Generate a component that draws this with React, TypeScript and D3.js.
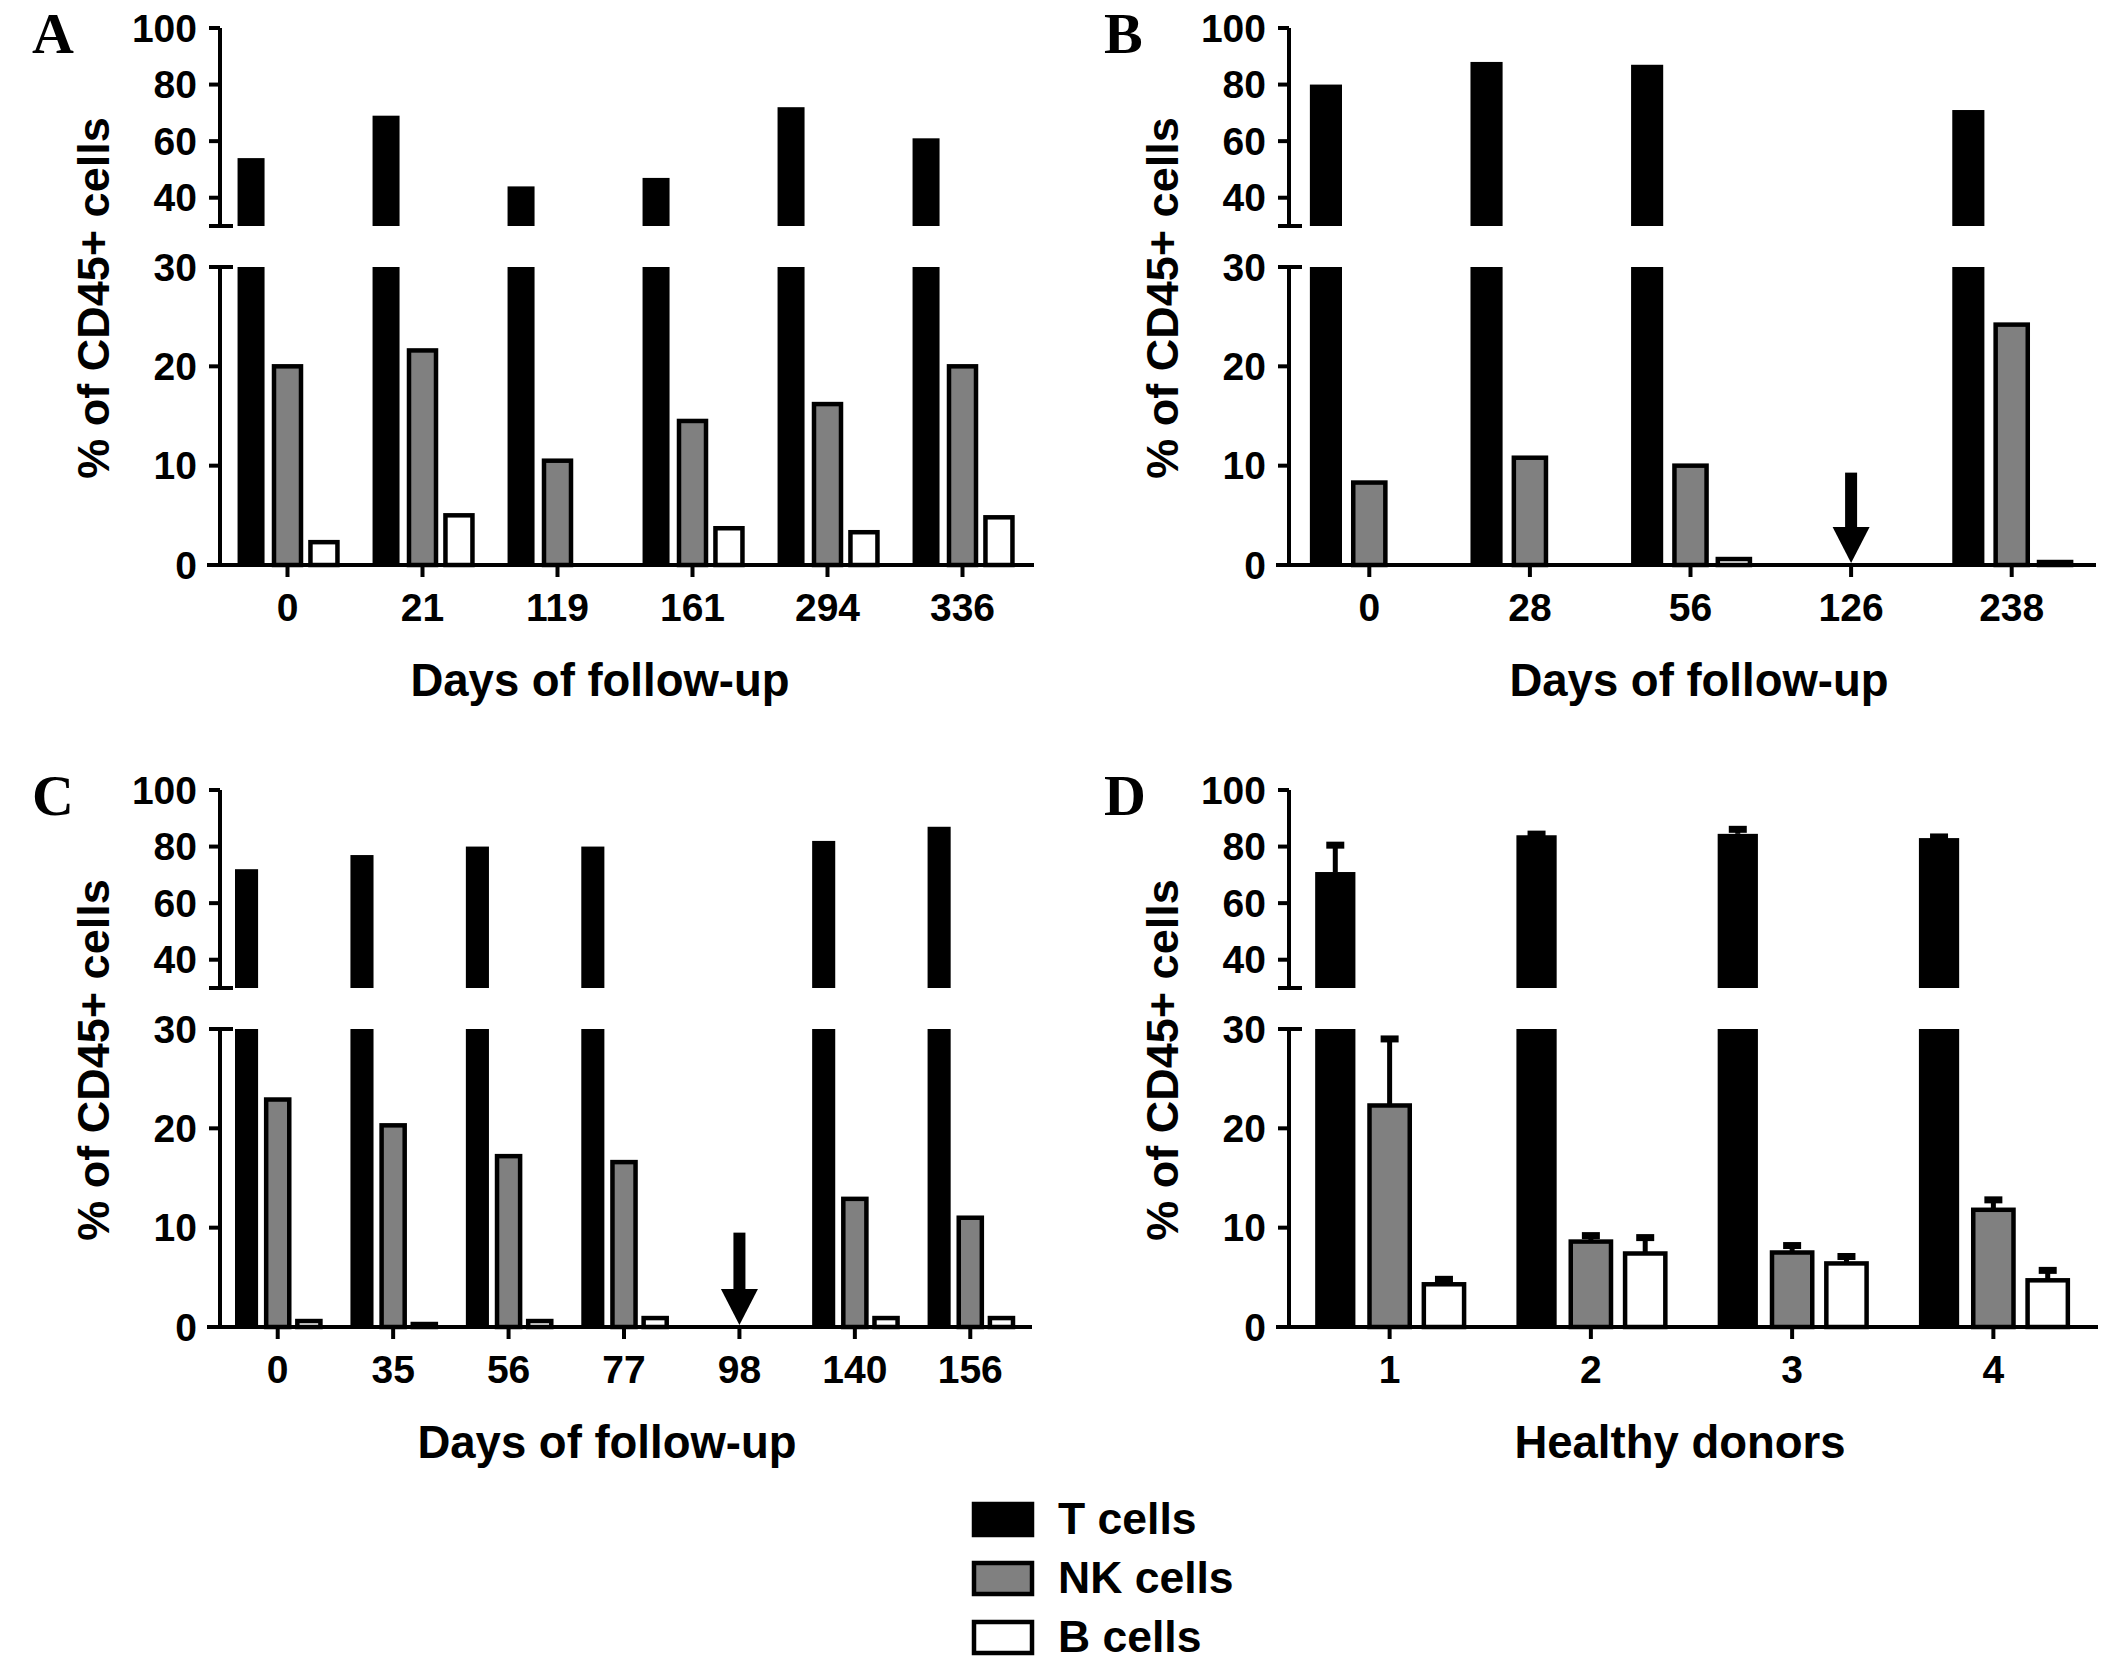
import * as d3 from 'd3';

// Panel A: patient 1
const catsA = ['0', '21', '119', '161', '294', '336'];
const tA = [54, 69, 44, 47, 72, 61];
const nkA = [20, 21.6, 10.5, 14.5, 16.2, 20];
const bA = [2.3, 5.0, 0, 3.7, 3.3, 4.8];

// Panel B: patient 2 (arrow at day 126)
const catsB = ['0', '28', '56', '126', '238'];
const tB = [80, 88, 87, 0, 71];
const nkB = [8.3, 10.8, 10, 0, 24.2];
const bB = [0, 0, 0.6, 0, 0.3];

// Panel C: patient 3 (arrow at day 98)
const catsC = ['0', '35', '56', '77', '98', '140', '156'];
const tC = [72, 77, 80, 80, 0, 82, 87];
const nkC = [22.9, 20.3, 17.2, 16.6, 0, 12.9, 11];
const bC = [0.6, 0.3, 0.6, 0.9, 0, 0.9, 0.9];

// Panel D: healthy donors, mean + SD
const catsD = ['1', '2', '3', '4'];
const tD = [71, 84, 84.5, 83];
const tErrD = [9.5, 0.4, 1.6, 0.4];
const nkD = [22.3, 8.6, 7.5, 11.8];
const nkErrD = [6.7, 0.6, 0.7, 1.0];
const bD = [4.3, 7.4, 6.4, 4.7];
const bErrD = [0.5, 1.6, 0.7, 1.0];

const upperTicks = [40, 60, 80, 100];
const lowerTicks = [0, 10, 20, 30];

const legendItems = ['T cells', 'NK cells', 'B cells'];
const GREY = '#808080';
const SANS = '"Liberation Sans", Arial, sans-serif';

interface PanelProps {
  letter: string;
  letterX: number;
  axisX: number;
  bandEnd: number;
  yOff: number;
  cats: string[];
  t: number[];
  nk: number[];
  b: number[];
  tErr?: number[];
  nkErr?: number[];
  bErr?: number[];
  arrowAt?: string;
  arrowFrom?: number;
  xTitle: string;
  titleX: number;
}

function Panel(p: PanelProps) {
  const x = d3.scaleBand<string>().domain(p.cats).range([p.axisX, p.bandEnd]);
  const bw = x.bandwidth();
  // broken y axis: two linear scales
  const yUp = d3.scaleLinear().domain([30, 100]).range([226 + p.yOff, 28 + p.yOff]);
  const yLo = d3.scaleLinear().domain([0, 30]).range([565 + p.yOff, 267 + p.yOff]);
  const base = yLo(0);
  const barW = bw * 0.2;

  const series = [
    { vals: p.t, err: p.tErr, fill: '#000', off: -0.27, stroke: 'none' },
    { vals: p.nk, err: p.nkErr, fill: GREY, off: 0, stroke: '#000' },
    { vals: p.b, err: p.bErr, fill: '#fff', off: 0.27, stroke: '#000' },
  ];

  const cx = (c: string) => (x(c) as number) + bw / 2;

  return (
    <g>
      <text x={p.letterX} y={53 + p.yOff}
        fontFamily='"Liberation Serif", "Times New Roman", serif' fontWeight="bold" fontSize={58}>
        {p.letter}
      </text>

      {/* bars */}
      {series.map((s, si) =>
        p.cats.map((c, i) => {
          const v = s.vals[i];
          if (!v) return null;
          const bx = cx(c) + s.off * bw - barW / 2;
          const e = s.err ? s.err[i] : 0;
          const ey = v > 30 ? yUp(v + e) : yLo(v + e);
          const vy = v > 30 ? yUp(v) : yLo(v);
          return (
            <g key={`${si}-${c}`}>
              {e > 0 && (
                <g stroke="#000">
                  <line x1={bx + barW / 2} x2={bx + barW / 2} y1={vy} y2={ey} strokeWidth={5} />
                  <line x1={bx + barW / 2 - 9} x2={bx + barW / 2 + 9} y1={ey} y2={ey} strokeWidth={7} />
                </g>
              )}
              {s.stroke === 'none' ? (
                <>
                  <rect x={bx} width={barW} y={yLo(Math.min(v, 30))} height={base - yLo(Math.min(v, 30))} fill={s.fill} />
                  {v > 30 && <rect x={bx} width={barW} y={yUp(v)} height={yUp(30) - yUp(v)} fill={s.fill} />}
                </>
              ) : (
                <rect x={bx} width={barW} y={yLo(v)} height={base - yLo(v)} fill={s.fill}
                  stroke={s.stroke} strokeWidth={4.5} />
              )}
            </g>
          );
        })
      )}

      {/* arrow */}
      {p.arrowAt && (
        <g fill="#000">
          <rect x={cx(p.arrowAt) - 6} width={12} y={yLo(p.arrowFrom as number)}
            height={base - 36 - yLo(p.arrowFrom as number)} />
          <polygon points={`${cx(p.arrowAt) - 18.5},${base - 38} ${cx(p.arrowAt) + 18.5},${base - 38} ${cx(p.arrowAt)},${base - 2}`} />
        </g>
      )}

      {/* y axis, broken */}
      <g stroke="#000" strokeWidth={4} fill="none">
        <line x1={p.axisX} x2={p.axisX} y1={yUp(100)} y2={yUp(30)} />
        <line x1={p.axisX - 11} x2={p.axisX + 13} y1={yUp(30)} y2={yUp(30)} />
        {upperTicks.map(v => (
          <line key={v} x1={p.axisX - 11} x2={p.axisX} y1={yUp(v)} y2={yUp(v)} />
        ))}
        <line x1={p.axisX} x2={p.axisX} y1={yLo(30)} y2={base} />
        <line x1={p.axisX - 11} x2={p.axisX + 13} y1={yLo(30)} y2={yLo(30)} />
        {lowerTicks.slice(1, 3).map(v => (
          <line key={v} x1={p.axisX - 11} x2={p.axisX} y1={yLo(v)} y2={yLo(v)} />
        ))}
        {/* x axis */}
        <line x1={p.axisX - 13} x2={p.bandEnd + 4} y1={base} y2={base} />
        {p.cats.map(c => (
          <line key={c} x1={cx(c)} x2={cx(c)} y1={base} y2={base + 12} />
        ))}
      </g>

      <g fontFamily={SANS} fontWeight="bold" fontSize={39} fill="#000">
        {upperTicks.map(v => (
          <text key={`u${v}`} x={p.axisX - 23} y={yUp(v)} textAnchor="end" dominantBaseline="central">{v}</text>
        ))}
        {lowerTicks.map(v => (
          <text key={`l${v}`} x={p.axisX - 23} y={yLo(v)} textAnchor="end" dominantBaseline="central">{v}</text>
        ))}
        {p.cats.map(c => (
          <text key={c} x={cx(c)} y={621 + p.yOff} textAnchor="middle">{c}</text>
        ))}
      </g>

      <text x={p.titleX} y={696 + p.yOff} textAnchor="middle" fontFamily={SANS} fontWeight="bold" fontSize={45.5}>
        {p.xTitle}
      </text>
      <text transform={`translate(${p.axisX - 111},${298 + p.yOff}) rotate(-90)`} textAnchor="middle"
        fontFamily={SANS} fontWeight="bold" fontSize={45}>
        % of CD45+ cells
      </text>
    </g>
  );
}

export default function App() {
  const legendFill = ['#000', GREY, '#fff'];
  return (
    <svg width={2109} height={1670} viewBox="0 0 2109 1670"
      style={{ position: 'absolute', left: 0, top: 0, background: '#fff' }}>
      <rect width={2109} height={1670} fill="#fff" />
      <Panel letter="A" letterX={32} axisX={220} bandEnd={1030} yOff={0} cats={catsA} t={tA} nk={nkA} b={bA}
        xTitle="Days of follow-up" titleX={600} />
      <Panel letter="B" letterX={1104} axisX={1289} bandEnd={2092} yOff={0} cats={catsB} t={tB} nk={nkB} b={bB}
        arrowAt="126" arrowFrom={9.3} xTitle="Days of follow-up" titleX={1699} />
      <Panel letter="C" letterX={32} axisX={220} bandEnd={1028} yOff={762} cats={catsC} t={tC} nk={nkC} b={bC}
        arrowAt="98" arrowFrom={9.5} xTitle="Days of follow-up" titleX={607} />
      <Panel letter="D" letterX={1104} axisX={1289} bandEnd={2094} yOff={762} cats={catsD} t={tD} nk={nkD} b={bD}
        tErr={tErrD} nkErr={nkErrD} bErr={bErrD} xTitle="Healthy donors" titleX={1680} />

      {/* legend */}
      {legendItems.map((name, i) => (
        <g key={name}>
          <rect x={974} y={1504 + i * 59} width={58} height={31} fill={legendFill[i]} stroke="#000" strokeWidth={4.5} />
          <text x={1058} y={1534 + i * 59} fontFamily={SANS} fontWeight="bold" fontSize={44.5}>{name}</text>
        </g>
      ))}
    </svg>
  );
}
